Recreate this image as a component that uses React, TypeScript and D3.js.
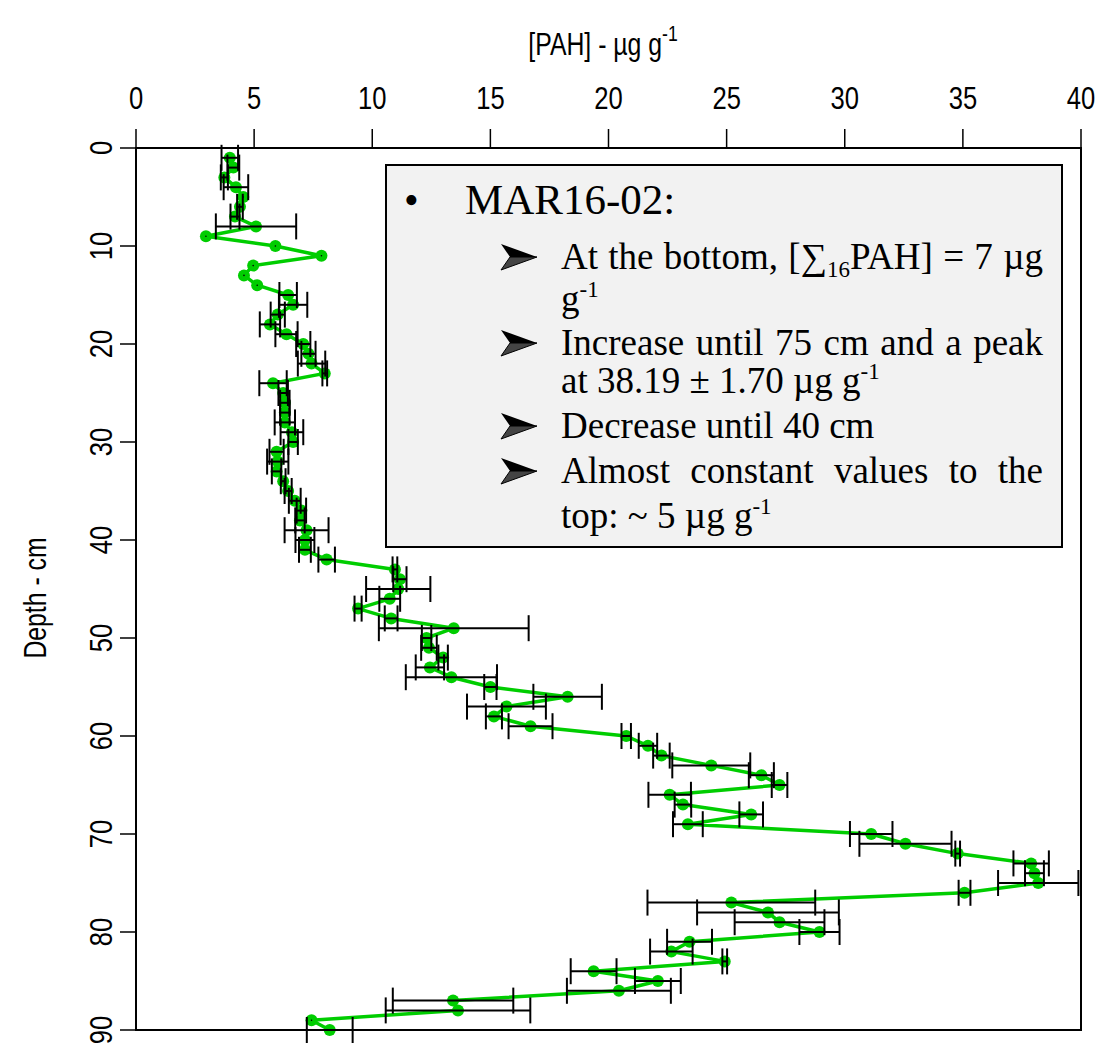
import React, { useEffect, useRef } from 'react';
import * as d3 from 'd3';

// depth (cm) of each slice, [PAH] in ug/g and the +/- error
const depth = [
  1, 2, 3, 4, 5, 6, 7, 8, 9, 10, 11, 12, 13, 14, 15, 16, 17, 18, 19, 20,
  21, 22, 23, 24, 25, 26, 27, 28, 29, 30, 31, 32, 33, 34, 35, 36, 37, 38, 39, 40,
  41, 42, 43, 44, 45, 46, 47, 48, 49, 50, 51, 52, 53, 54, 55, 56, 57, 58, 59, 60,
  61, 62, 63, 64, 65, 66, 67, 68, 69, 70, 71, 72, 73, 74, 75, 76, 77, 78, 79, 80,
  81, 82, 83, 84, 85, 86, 87, 88, 89, 90,
];
const pah = [
  3.97, 4.12, 3.74, 4.23, 4.54, 4.4, 4.19, 5.08, 2.96, 5.9,
  7.85, 4.96, 4.57, 5.13, 6.44, 6.65, 6.0, 5.67, 6.37, 7.08,
  7.3, 7.43, 7.99, 5.8, 6.23, 6.3, 6.3, 6.3, 6.6, 6.65,
  5.95, 6.0, 5.95, 6.23, 6.44, 6.72, 7.0, 6.94, 7.22, 7.15,
  7.15, 8.07, 10.96, 11.17, 11.1, 10.74, 9.4, 10.8, 13.45, 12.3,
  12.4, 13.0, 12.44, 13.35, 15.0, 18.27, 15.68, 15.15, 16.7, 20.75,
  21.67, 22.24, 24.35, 26.47, 27.24, 22.59, 23.15, 26.04, 23.36, 31.12,
  32.57, 34.78, 37.89, 38.03, 38.19, 35.07, 25.2, 26.75, 27.24, 28.93,
  23.43, 22.66, 24.92, 19.37, 22.09, 20.44, 13.42, 13.63, 7.43, 8.2,
];
const pahErr = [
  0.35, 0.25, 0.15, 0.52, 0.0, 0.12, 0.19, 1.7, 0.0, 0.0,
  0.0, 0.0, 0.0, 0.0, 0.37, 0.6, 0.3, 0.43, 0.47, 0.3,
  0.3, 0.58, 0.1, 0.58, 0.2, 0.2, 0.2, 0.43, 0.48, 0.2,
  0.3, 0.45, 0.2, 0.1, 0.15, 0.25, 0.2, 0.2, 0.93, 0.4,
  0.25, 0.35, 0.1, 0.28, 1.36, 0.44, 0.15, 0.27, 3.17, 0.2,
  0.33, 0.2, 0.6, 1.93, 0.26, 1.45, 1.67, 0.34, 0.93, 0.2,
  0.39, 0.35, 1.65, 0.53, 0.33, 0.9, 0.35, 0.5, 0.63, 0.9,
  1.95, 0.1, 0.75, 0.4, 1.7, 0.25, 3.55, 3.0, 1.9, 0.85,
  0.95, 0.9, 0.1, 0.97, 0.97, 2.2, 2.55, 3.06, 0.0, 0.97,
];

const xTicks = [0, 5, 10, 15, 20, 25, 30, 35, 40];
const yTicks = [0, 10, 20, 30, 40, 50, 60, 70, 80, 90];

const xTitle = '[PAH] - µg g';
const yTitle = 'Depth - cm';

const noteHead = 'MAR16-02:';
// each line: words made of segments, sub/sup for the small text
type Seg = { t: string; sub?: boolean; sup?: boolean };
type Line = { words: Seg[][]; justify: boolean; arrow: boolean; y: number };
const noteLines: Line[] = [
  { words: [[{ t: 'At' }], [{ t: 'the' }], [{ t: 'bottom,' }], [{ t: '[∑' }, { t: '16', sub: true }, { t: 'PAH]' }], [{ t: '=' }], [{ t: '7' }], [{ t: 'µg' }]], justify: true, arrow: true, y: 269 },
  { words: [[{ t: 'g' }, { t: '-1', sup: true }]], justify: false, arrow: false, y: 311 },
  { words: [[{ t: 'Increase' }], [{ t: 'until' }], [{ t: '75' }], [{ t: 'cm' }], [{ t: 'and' }], [{ t: 'a' }], [{ t: 'peak' }]], justify: true, arrow: true, y: 355 },
  { words: [[{ t: 'at' }], [{ t: '38.19' }], [{ t: '±' }], [{ t: '1.70' }], [{ t: 'µg' }], [{ t: 'g' }, { t: '-1', sup: true }]], justify: false, arrow: false, y: 393 },
  { words: [[{ t: 'Decrease' }], [{ t: 'until' }], [{ t: '40' }], [{ t: 'cm' }]], justify: false, arrow: true, y: 438 },
  { words: [[{ t: 'Almost' }], [{ t: 'constant' }], [{ t: 'values' }], [{ t: 'to' }], [{ t: 'the' }]], justify: true, arrow: true, y: 483 },
  { words: [[{ t: 'top:' }], [{ t: '~' }], [{ t: '5' }], [{ t: 'µg' }], [{ t: 'g' }, { t: '-1', sup: true }]], justify: false, arrow: false, y: 528 },
];

const GREEN = '#00cd00';
const SANS = "'Liberation Sans', Arial, sans-serif";
const SERIF = "'Liberation Serif', 'Times New Roman', serif";

const App = () => {
  const ref = useRef<SVGSVGElement | null>(null);

  useEffect(() => {
    const svg = d3.select(ref.current);
    svg.selectAll('*').remove();

    const left = 136, right = 1081, top = 148, bottom = 1030;
    const x = d3.scaleLinear().domain([0, 40]).range([left, right]);
    const y = d3.scaleLinear().domain([0, 90]).range([top, bottom]);
    const squeeze = 0.8;

    svg.append('rect').attr('width', 1109).attr('height', 1053).attr('fill', '#fff');

    // top axis
    const ax = svg.append('g');
    ax.append('line').attr('x1', x(0)).attr('x2', x(40)).attr('y1', top).attr('y2', top)
      .attr('stroke', '#000').attr('stroke-width', 1.5);
    xTicks.forEach((t) => {
      ax.append('line').attr('x1', x(t)).attr('x2', x(t)).attr('y1', top).attr('y2', top - 19)
        .attr('stroke', '#000').attr('stroke-width', 1.5);
      ax.append('text').attr('transform', `translate(${x(t)},109) scale(${squeeze},1)`)
        .attr('text-anchor', 'middle').attr('font-family', SANS).attr('font-size', 32).text(t);
    });
    const tt = svg.append('text').attr('transform', `translate(603,55) scale(${squeeze},1)`)
      .attr('text-anchor', 'middle').attr('font-family', SANS).attr('font-size', 31);
    tt.append('tspan').text(xTitle);
    tt.append('tspan').attr('dy', -14).attr('font-size', 22).text('-1');

    // left axis
    yTicks.forEach((t) => {
      ax.append('line').attr('x1', left).attr('x2', left - 16).attr('y1', y(t)).attr('y2', y(t))
        .attr('stroke', '#000').attr('stroke-width', 1.5);
      ax.append('text').attr('transform', `translate(112,${y(t)}) rotate(-90) scale(${squeeze},1)`)
        .attr('text-anchor', 'middle').attr('font-family', SANS).attr('font-size', 32).text(t);
    });
    svg.append('text').attr('transform', `translate(46,598) rotate(-90) scale(${squeeze},1)`)
      .attr('text-anchor', 'middle').attr('font-family', SANS).attr('font-size', 31).text(yTitle);

    // box
    svg.append('rect').attr('x', left).attr('y', top).attr('width', right - left).attr('height', bottom - top)
      .attr('fill', 'none').attr('stroke', '#000').attr('stroke-width', 2);

    const rows = depth.map((d, i) => ({ d, v: pah[i], e: pahErr[i] }));

    const line = d3.line<{ d: number; v: number }>().x((r) => x(r.v)).y((r) => y(r.d));
    svg.append('path').datum(rows).attr('d', line).attr('fill', 'none')
      .attr('stroke', GREEN).attr('stroke-width', 3.5).attr('stroke-linejoin', 'round');

    svg.append('g').selectAll('circle').data(rows).enter().append('circle')
      .attr('cx', (r) => x(r.v)).attr('cy', (r) => y(r.d)).attr('r', 6).attr('fill', GREEN);

    const eb = svg.append('g').attr('stroke', '#000').attr('stroke-width', 2);
    rows.forEach((r) => {
      const cy = y(r.d);
      if (r.e < 0.05) {
        eb.append('circle').attr('cx', x(r.v)).attr('cy', cy).attr('r', 0.8).attr('fill', '#000').attr('stroke', 'none');
        return;
      }
      const x0 = x(r.v - r.e), x1 = x(r.v + r.e);
      eb.append('line').attr('x1', x0).attr('x2', x1).attr('y1', cy).attr('y2', cy);
      eb.append('line').attr('x1', x0).attr('x2', x0).attr('y1', cy - 13).attr('y2', cy + 13);
      eb.append('line').attr('x1', x1).attr('x2', x1).attr('y1', cy - 13).attr('y2', cy + 13);
    });

    // note box
    const note = svg.append('g');
    note.append('rect').attr('x', 386).attr('y', 165).attr('width', 676).attr('height', 382)
      .attr('fill', '#f2f2f2').attr('stroke', '#000').attr('stroke-width', 2);
    note.append('text').attr('x', 404).attr('y', 214).attr('font-family', SERIF).attr('font-size', 42).text('•');
    note.append('text').attr('x', 465).attr('y', 214).attr('font-family', SERIF).attr('font-size', 43).text(noteHead);

    const fs = 37;
    const ctx = document.createElement('canvas').getContext('2d')!;
    const segW = (s: Seg) => {
      const size = s.sub || s.sup ? fs * 0.62 : fs;
      ctx.font = `${size}px 'Liberation Serif'`;
      return ctx.measureText(s.t).width;
    };
    ctx.font = `${fs}px 'Liberation Serif'`;
    const spaceW = ctx.measureText(' ').width;
    const lx0 = 561, lx1 = 1043;

    noteLines.forEach((ln) => {
      if (ln.arrow) {
        // 3D arrowhead bullet
        const ay = ln.y - 12;
        note.append('path').attr('d', `M501,${ay - 13} L537,${ay} L510,${ay} Z`).attr('fill', '#000');
        note.append('path').attr('d', `M501,${ay + 13} L537,${ay} L510,${ay} Z`).attr('fill', '#444')
          .attr('stroke', '#000').attr('stroke-width', 1);
      }
      const widths = ln.words.map((w) => d3.sum(w, segW));
      const gap = ln.justify && ln.words.length > 1
        ? (lx1 - lx0 - d3.sum(widths)) / (ln.words.length - 1)
        : spaceW;
      let cx = lx0;
      ln.words.forEach((w, i) => {
        const t = note.append('text').attr('x', cx).attr('y', ln.y)
          .attr('font-family', SERIF).attr('font-size', fs);
        let shift = 0;
        w.forEach((s) => {
          const target = s.sub ? 8 : s.sup ? -14 : 0;
          t.append('tspan').attr('dy', target - shift)
            .attr('font-size', s.sub || s.sup ? fs * 0.62 : fs).text(s.t);
          shift = target;
        });
        cx += widths[i] + gap;
      });
    });
  }, []);

  return (
    <svg ref={ref} width={1109} height={1053}
      style={{ position: 'absolute', left: 0, top: 0, display: 'block' }} />
  );
};

export default App;
